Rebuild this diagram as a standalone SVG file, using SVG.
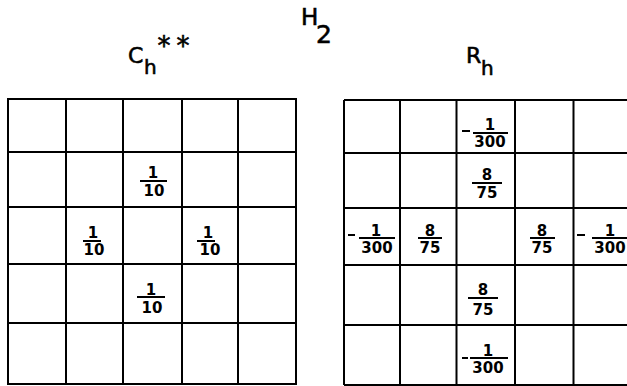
<svg xmlns="http://www.w3.org/2000/svg" width="627" height="386" viewBox="0 0 627 386">
<style>
.g{stroke:#000;stroke-width:2;fill:none}
.bar{stroke:#000;stroke-width:2}
.n{font-family:"DejaVu Sans",sans-serif;font-weight:bold;font-size:15px;text-anchor:middle;fill:#000}
.t{font-family:"DejaVu Sans",sans-serif;fill:#000;stroke:#000;stroke-width:0.6}
</style>
<rect width="627" height="386" fill="#fff"/>
<g id="title">
<text class="t" x="301" y="25" font-size="23">H</text>
<text class="t" x="316" y="43" font-size="25">2</text>
</g>
<g id="label-ch">
<text class="t" x="128" y="63" font-size="22">C</text>
<text class="t" x="144" y="74" font-size="20">h</text>
<text class="t" x="164" y="55" font-size="26" text-anchor="middle">*</text>
<text class="t" x="183" y="55" font-size="26" text-anchor="middle">*</text>
</g>
<g id="label-rh">
<text class="t" x="466" y="63" font-size="22">R</text>
<text class="t" x="481" y="75" font-size="20">h</text>
</g>
<g id="grid-ch">
<rect class="g" x="8" y="99" width="288" height="285"/>
<path class="g" d="M66 99V384M123 99V384M182 99V384M238 99V384M8 152H296M8 207H296M8 264H296M8 323H296"/>
</g>
<g id="grid-rh">
<path class="g" d="M344 100V385M400 100V385M456.5 100V385M515 100V385M573.5 100V385M344 100H627M344 153H627M344 208H627M344 265H627M344 325H627M344 385H627"/>
</g>
<g id="ch-values">
<g id="ch-r1c2"><text class="n" x="153" y="178">1</text><line class="bar" x1="140" y1="181" x2="167" y2="181"/><text class="n" x="154" y="196">10</text></g>
<g id="ch-r2c1"><text class="n" x="93" y="238">1</text><line class="bar" x1="83" y1="241" x2="101" y2="241"/><text class="n" x="94" y="255">10</text></g>
<g id="ch-r2c3"><text class="n" x="208" y="238">1</text><line class="bar" x1="197" y1="241" x2="215" y2="241"/><text class="n" x="210" y="255">10</text></g>
<g id="ch-r3c2"><text class="n" x="151" y="295">1</text><line class="bar" x1="137" y1="297" x2="165" y2="297"/><text class="n" x="152" y="313">10</text></g>
</g>
<g id="rh-values">
<g id="rh-r0c2"><line class="bar" x1="462" y1="131" x2="470" y2="131"/><text class="n" x="490" y="130">1</text><line class="bar" x1="473" y1="133" x2="508" y2="133"/><text class="n" x="490" y="147">300</text></g>
<g id="rh-r1c2"><text class="n" x="487" y="180">8</text><line class="bar" x1="472" y1="183" x2="502" y2="183"/><text class="n" x="487" y="198">75</text></g>
<g id="rh-r2c0"><line class="bar" x1="348" y1="235" x2="355" y2="235"/><text class="n" x="376" y="236">1</text><line class="bar" x1="359" y1="238" x2="395" y2="238"/><text class="n" x="377" y="253">300</text></g>
<g id="rh-r2c1"><text class="n" x="430" y="236">8</text><line class="bar" x1="418" y1="238" x2="442" y2="238"/><text class="n" x="430" y="253">75</text></g>
<g id="rh-r2c3"><text class="n" x="542" y="236">8</text><line class="bar" x1="530" y1="238" x2="555" y2="238"/><text class="n" x="542" y="253">75</text></g>
<g id="rh-r2c4"><line class="bar" x1="577" y1="235" x2="585" y2="235"/><text class="n" x="610" y="236">1</text><line class="bar" x1="592" y1="238" x2="627" y2="238"/><text class="n" x="610" y="253">300</text></g>
<g id="rh-r3c2"><text class="n" x="483" y="295">8</text><line class="bar" x1="468" y1="298" x2="498" y2="298"/><text class="n" x="483" y="315">75</text></g>
<g id="rh-r4c2"><line class="bar" x1="462" y1="358" x2="468" y2="358"/><text class="n" x="488" y="356">1</text><line class="bar" x1="470" y1="358" x2="508" y2="358"/><text class="n" x="488" y="373">300</text></g>
</g>
</svg>
